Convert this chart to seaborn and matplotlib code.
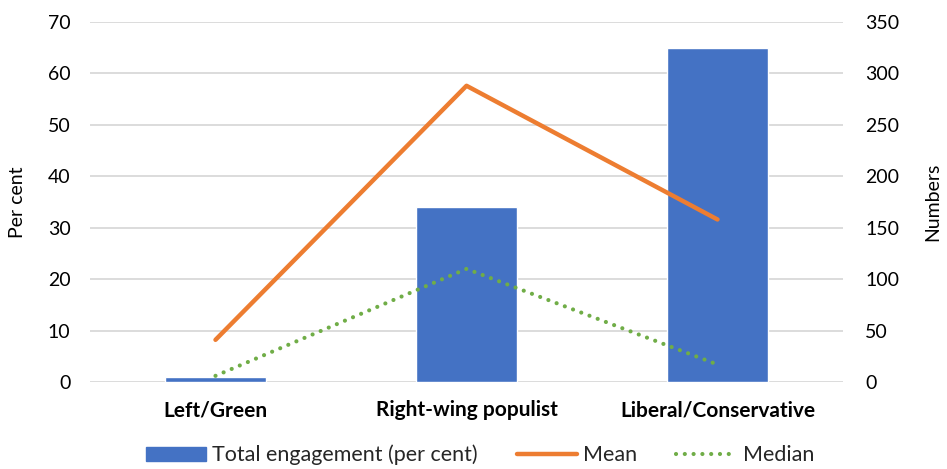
import matplotlib
matplotlib.use("Agg")
import matplotlib.pyplot as plt
import seaborn as sns
import pandas as pd
from matplotlib.patches import Patch
from matplotlib.lines import Line2D

categories = ["Left/Green", "Right-wing populist", "Liberal/Conservative"]
engagement_pct = [1, 34, 65]
mean_numbers = [41, 288, 158]
median_numbers = [6, 110, 17]

left_ticks = [0, 10, 20, 30, 40, 50, 60, 70]
right_ticks = [0, 50, 100, 150, 200, 250, 300, 350]

sns.set_theme(style="white")
plt.rcParams["font.family"] = ["Lato", "DejaVu Sans"]

BLUE = "#4472C4"
ORANGE = "#ED7D31"
GREEN = "#70AD47"
GRID = "#D9D9D9"
TEXT = "#000000"

df = pd.DataFrame({"cat": categories, "pct": engagement_pct,
                   "mean": mean_numbers, "median": median_numbers})

fig = plt.figure(figsize=(9.47, 4.69), dpi=100)
ax = fig.add_axes([90/947, 1-382/469, (843-90)/947, (382-22)/469])

sns.barplot(data=df, x="cat", y="pct", ax=ax, color=BLUE, width=0.4,
            saturation=1, zorder=2)
ax.set_ylim(0, 70)
ax.set_yticks(left_ticks)
ax.set_xlim(-0.5, 2.5)
ax.yaxis.grid(True, color=GRID, linewidth=1.3, zorder=0)
ax.set_axisbelow(True)
for s in ax.spines.values():
    s.set_visible(False)
ax.tick_params(axis="y", length=0, labelsize=14, colors=TEXT, pad=14)
ax.tick_params(axis="x", length=0, labelsize=15, colors=TEXT, pad=13)
for lbl in ax.get_xticklabels():
    lbl.set_fontweight("bold")
ax.set_xlabel("")
ax.set_ylabel("Per cent", fontsize=14, color=TEXT, labelpad=16)

ax2 = ax.twinx()
sns.lineplot(data=df, x="cat", y="mean", ax=ax2, color=ORANGE, linewidth=3.2,
             solid_capstyle="round", sort=False)
sns.lineplot(data=df, x="cat", y="median", ax=ax2, color=GREEN, linewidth=3.0,
             linestyle=(0, (0.01, 2.1)), dash_capstyle="round", sort=False)
ax2.set_ylim(0, 350)
ax2.set_yticks(right_ticks)
ax2.set_xlim(-0.5, 2.5)
for s in ax2.spines.values():
    s.set_visible(False)
ax2.tick_params(axis="y", length=0, labelsize=14, colors=TEXT, pad=16)
ax2.set_ylabel("Numbers", fontsize=14, color=TEXT, labelpad=18)
ax2.grid(False)

handles = [
    Patch(facecolor=BLUE, edgecolor=BLUE),
    Line2D([], [], color=ORANGE, linewidth=3.2),
    Line2D([], [], color=GREEN, linewidth=3.0, linestyle=(0, (0.01, 2.1)),
           dash_capstyle="round"),
]
labels = ["Total engagement (per cent)", "Mean", "Median"]
fig.legend(handles, labels, loc="center", bbox_to_anchor=(480/947, 1-455/469),
           ncol=3, frameon=False, fontsize=15.5, handlelength=2.8,
           handleheight=0.65, handletextpad=0.3, columnspacing=1.8)

fig.savefig("out.png", dpi=100)
